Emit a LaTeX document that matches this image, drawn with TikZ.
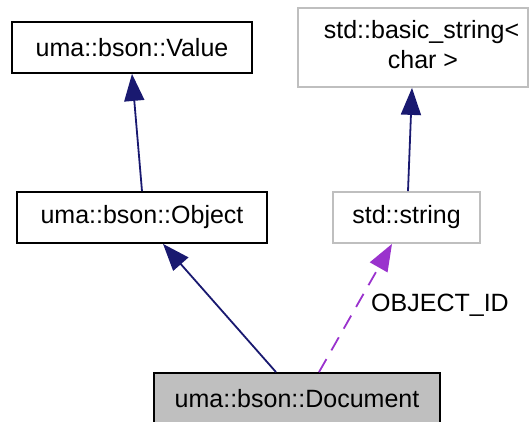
\documentclass[tikz,border=0pt]{standalone}
\usepackage{fontspec}
\setmainfont{Liberation Sans}
\usetikzlibrary{arrows.meta}
\definecolor{navy}{HTML}{191970}
\definecolor{orchid}{HTML}{9A32CD}
\definecolor{lgray}{HTML}{BFBFBF}
\tikzset{
  box/.style={draw=black, line width=1.8pt, rectangle, inner sep=0pt, font=\fontsize{25}{25}\selectfont, align=center},
  gbox/.style={box, draw=lgray},
  inh/.style={draw=navy, line width=1.8pt, -{Triangle[length=27pt,width=20pt]}},
  use/.style={draw=orchid, line width=1.8pt, dash pattern=on 15pt off 10pt, -{Triangle[length=27pt,width=20pt]}},
  lab/.style={font=\fontsize{25}{25}\selectfont, inner sep=0pt}
}
\begin{document}
\begin{tikzpicture}[x=1pt,y=1pt]
\useasboundingbox (0,0) rectangle (530,-422);
\node[box, minimum width=240pt, minimum height=51pt] (val) at (132,-47.5) {uma::bson::Value};
\node[gbox, minimum width=230pt, minimum height=79pt, text depth=6.3pt] (bstr) at (413,-47.5) {\hspace*{17pt}std::basic\_string<\\[5pt]\hspace*{20pt}char >};
\node[box, minimum width=250pt, minimum height=51pt] (obj) at (142,-217.5) {uma::bson::Object};
\node[gbox, minimum width=147pt, minimum height=51pt] (str) at (406.5,-217.5) {std::string};
\node[box, fill=lgray, minimum width=286pt, minimum height=51pt] (doc) at (297,-398.5) {uma::bson::Document};
\draw[inh] (obj.north) -- (val.south);
\draw[inh] ([xshift=1.5pt]str.north) -- ([xshift=-1pt]bstr.south);
\draw[inh] ([xshift=-21pt]doc.north) -- ([xshift=21pt]obj.south);
\draw[use] ([xshift=22pt]doc.north) -- ([xshift=-14.5pt]str.south);
\node[lab] (lbl) at (440,-305) {OBJECT\_ID};
\end{tikzpicture}
\end{document}
